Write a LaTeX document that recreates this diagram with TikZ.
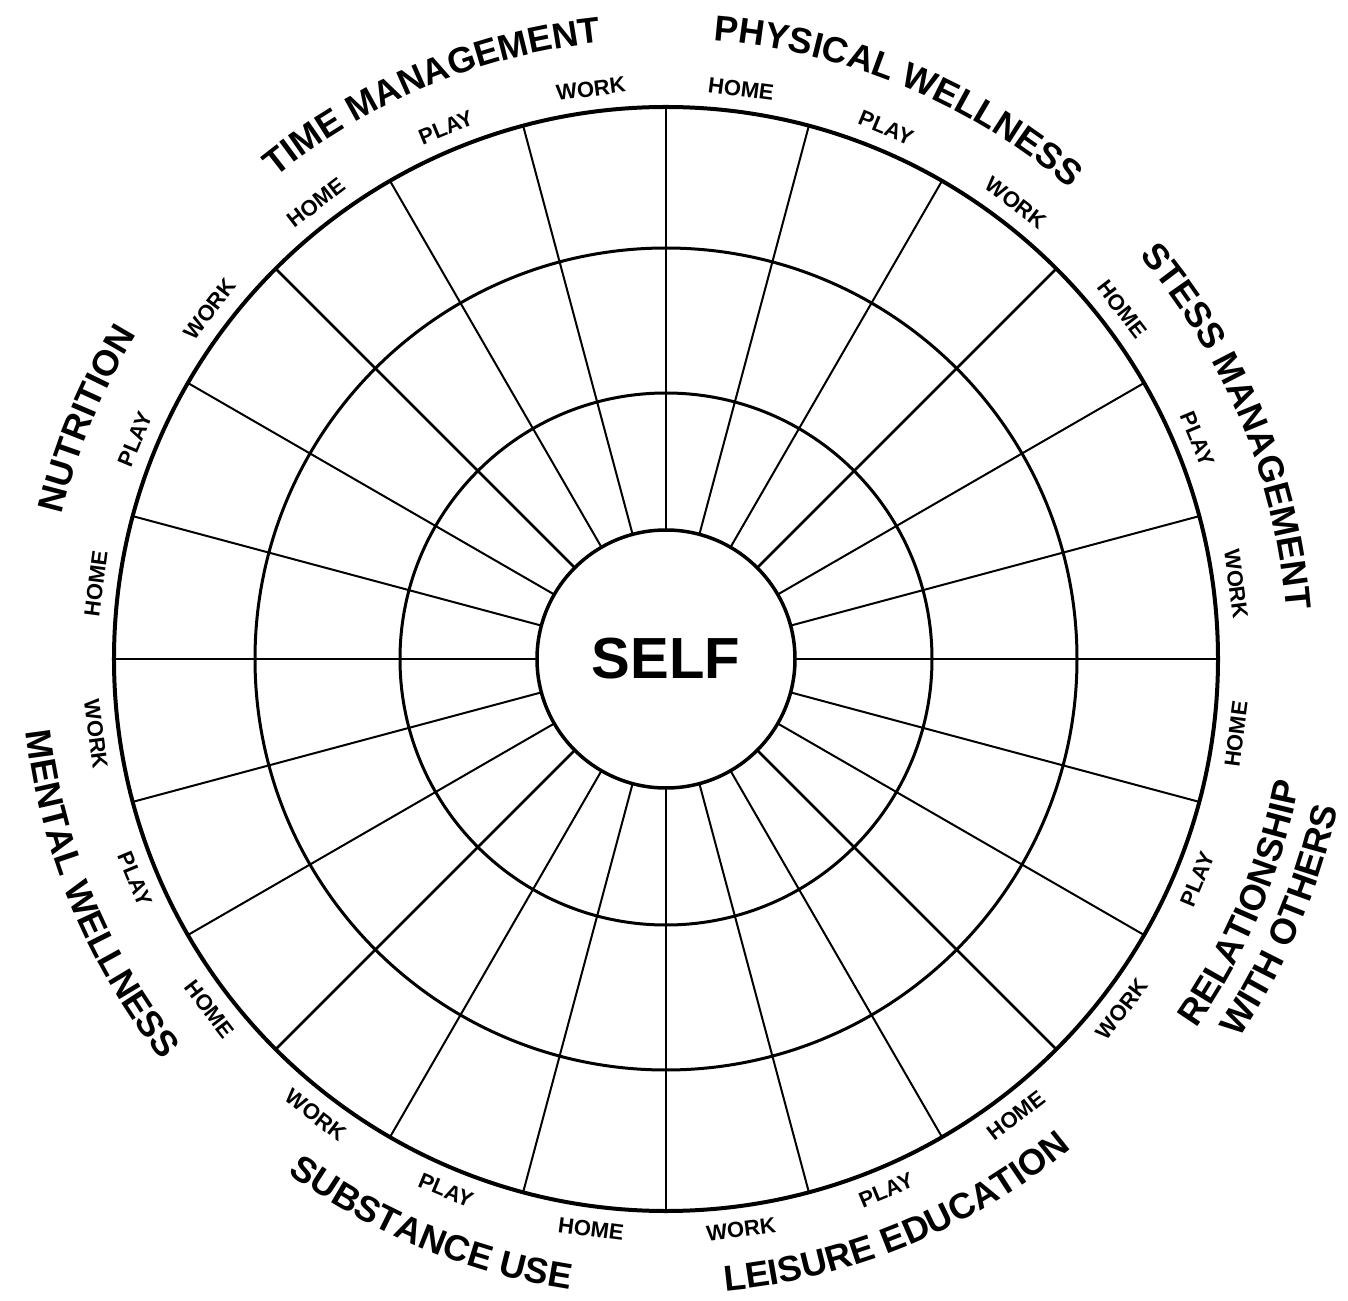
\documentclass[tikz,border=0pt]{standalone}
\usepackage{fontspec}
\setmainfont{Liberation Sans}
\usetikzlibrary{decorations.text}
\newcommand\catfont{\fontsize{36}{42}\selectfont\bfseries}
\newcommand\smallfont{\fontsize{22}{26}\selectfont\bfseries}
\begin{document}
\begin{tikzpicture}[x=1pt,y=1pt,
  ring/.style={circle, draw, inner sep=0pt, outer sep=0pt, line width=3pt},
  spoke/.style={line width=2pt},
  mainspoke/.style={line width=2.6pt},
  sublabel/.style={font=\smallfont, inner sep=1pt},
  cattext/.style={decorate, decoration={text along path, text align=center, text={|\catfont|#1}}}
]
\useasboundingbox[fill=white] (-666,-641) rectangle (682,659);

% circles
\node[ring, minimum size=1104pt, line width=4pt] (outer) at (0,0) {};
\node[ring, minimum size=822pt] (ringb) at (0,0) {};
\node[ring, minimum size=532pt] (ringa) at (0,0) {};
\node[ring, minimum size=258pt, line width=3.5pt, font=\fontsize{58}{64}\selectfont\bfseries] (self) at (0,0) {SELF};

% spokes
\foreach \a in {15,30,60,75,105,120,150,165,195,210,240,255,285,300,330,345}
  \draw[spoke] (self.\a) -- (outer.\a);
\foreach \a in {0,45,...,315}
  \draw[mainspoke] (self.\a) -- (outer.\a);

% sub labels
\foreach \a/\t [count=\i] in {
  82.5/HOME, 67.5/PLAY, 52.5/WORK,
  37.5/HOME, 22.5/PLAY, 7.5/WORK,
  -7.5/HOME, -22.5/PLAY, -37.5/WORK,
  -52.5/HOME, -67.5/PLAY, -82.5/WORK,
  -97.5/HOME, -112.5/PLAY, -127.5/WORK,
  -142.5/HOME, -157.5/PLAY, -172.5/WORK,
  172.5/HOME, 157.5/PLAY, 142.5/WORK,
  127.5/HOME, 112.5/PLAY, 97.5/WORK}{
  \pgfmathsetmacro\rot{\a>0 ? \a-90 : \a+90}
  \node[sublabel, rotate=\rot] (sub\i) at (\a:575) {\t};
}

% category labels (top half: clockwise, bottom half: counter-clockwise)
\path[cattext={TIME MANAGEMENT}] (147.5:620) arc[start angle=147.5, end angle=77.5, radius=620];
\path[cattext={PHYSICAL WELLNESS}] (102.5:620) arc[start angle=102.5, end angle=32.5, radius=620];
\path[cattext={STESS MANAGEMENT}] (57.5:622) arc[start angle=57.5, end angle=-12.5, radius=622];
\path[cattext={NUTRITION}] (187.5:621) arc[start angle=187.5, end angle=127.5, radius=621];
\path[cattext={MENTAL WELLNESS}] (-192.5:644) arc[start angle=-192.5, end angle=-122.5, radius=644];
\path[cattext={SUBSTANCE USE}] (-147.5:638) arc[start angle=-147.5, end angle=-77.5, radius=638];
\path[cattext={LEISURE EDUCATION}] (-102.5:635) arc[start angle=-102.5, end angle=-32.5, radius=635];
\path[cattext={RELATIONSHIP}] (-53:646) arc[start angle=-53, end angle=7, radius=646];
\path[cattext={WITH OTHERS}] (-52:688) arc[start angle=-52, end angle=6, radius=688];
\end{tikzpicture}
\end{document}
